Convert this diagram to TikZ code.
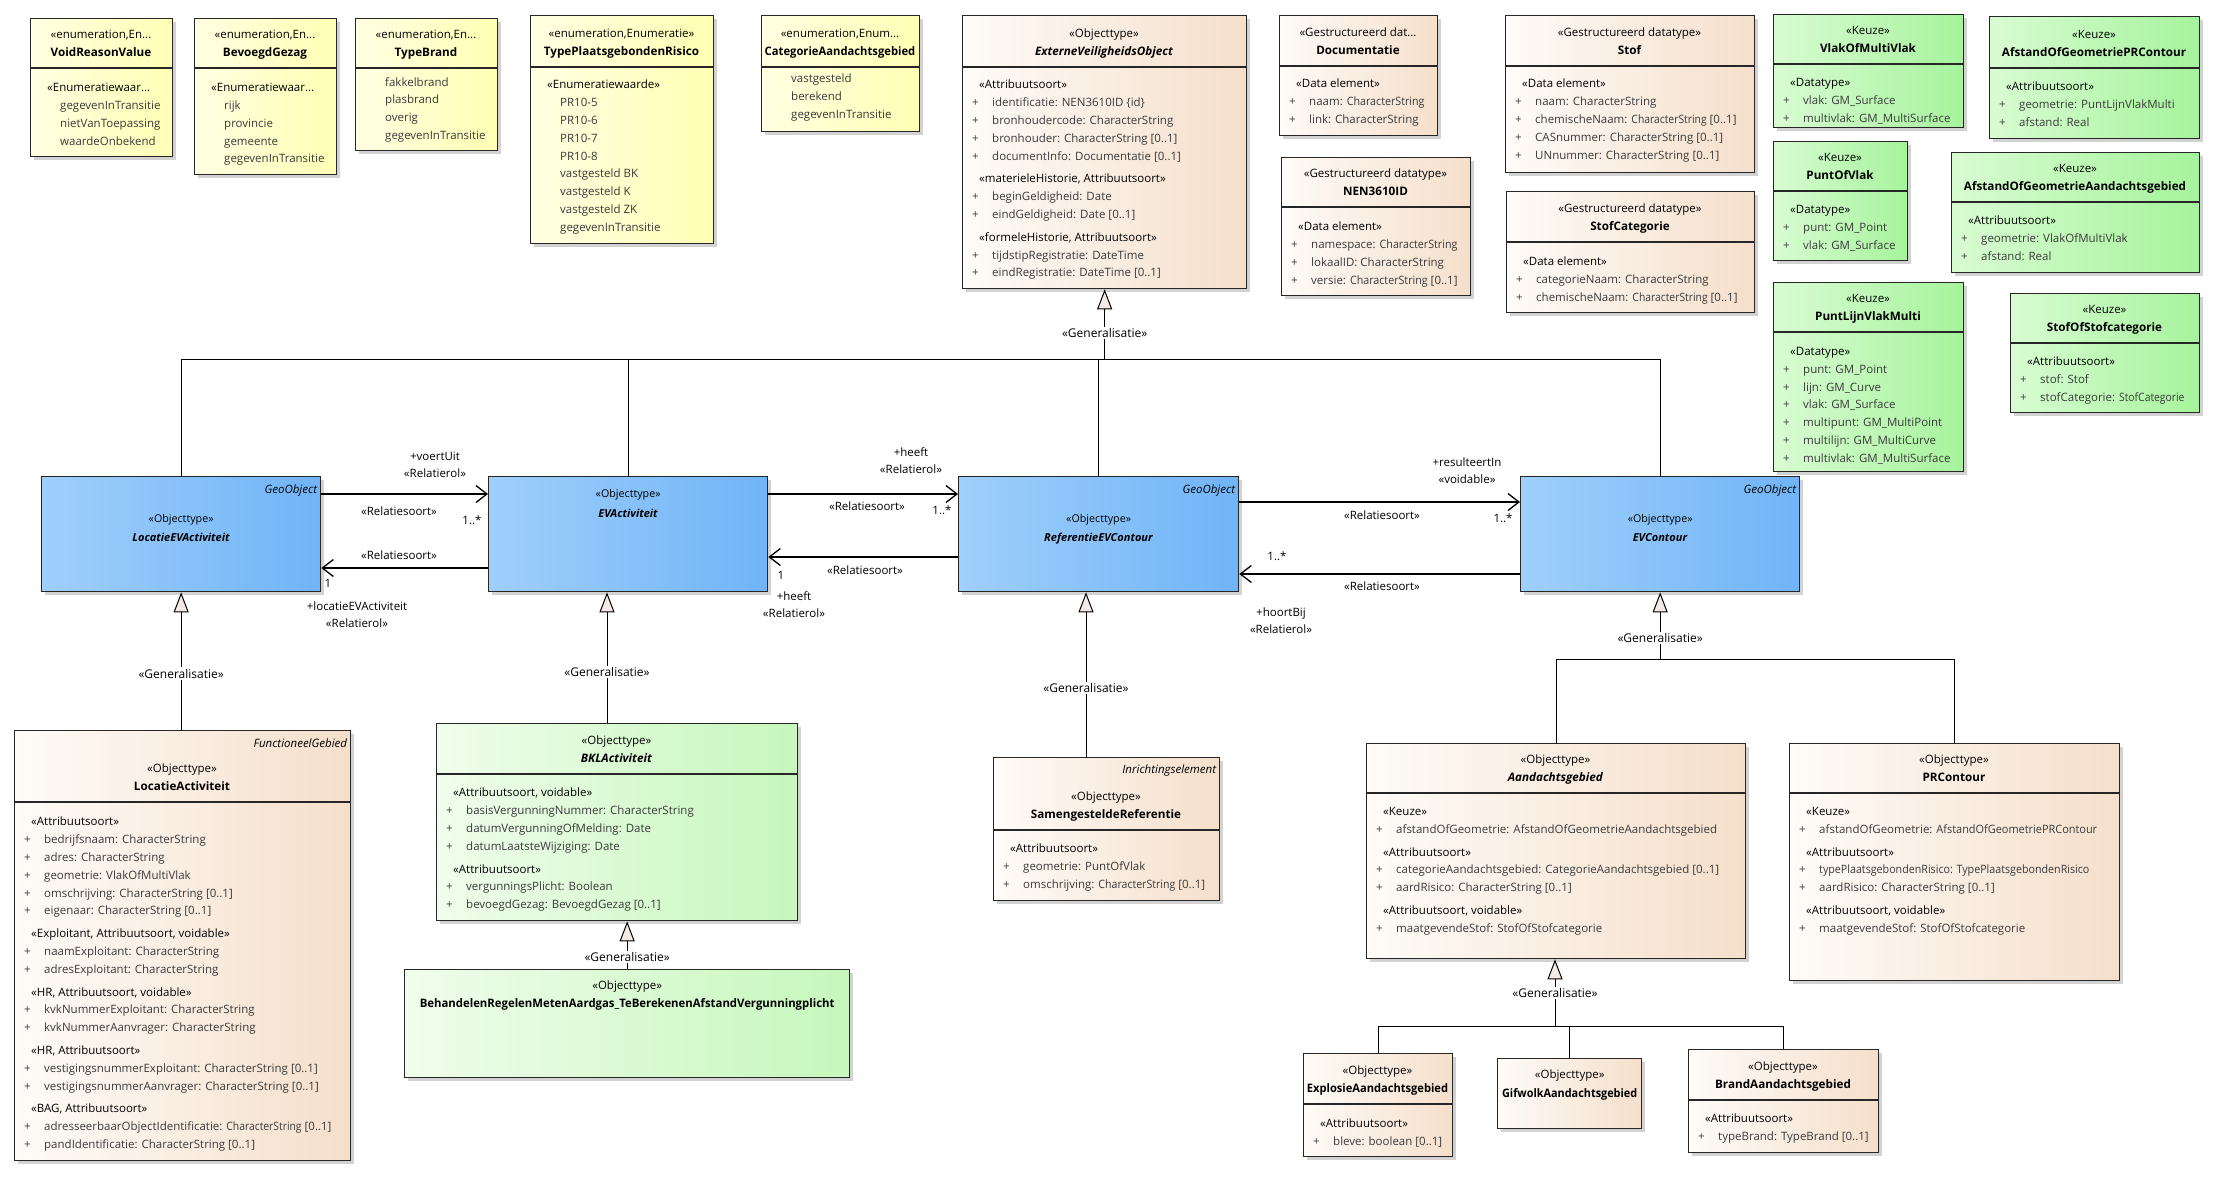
\documentclass[tikz,border=0pt]{standalone}
\usepackage{fontspec}
\setmainfont{Open Sans}
\usepackage{graphicx}
\usetikzlibrary{arrows.meta,shadows,calc}

\definecolor{enumL}{HTML}{FFFFE2}
\definecolor{enumR}{HTML}{FFFFB4}
\definecolor{objL}{HTML}{FEFBF8}
\definecolor{objR}{HTML}{F5DFCB}
\definecolor{keuzeL}{HTML}{D8FCD2}
\definecolor{keuzeR}{HTML}{A6F39C}
\definecolor{bklL}{HTML}{F0FDEC}
\definecolor{bklR}{HTML}{C6F7BC}
\definecolor{geoL}{HTML}{A0CFFB}
\definecolor{geoR}{HTML}{70B4F7}
\definecolor{triFill}{HTML}{F3E9E7}
\definecolor{attrGray}{HTML}{3A3A3A}

\tikzset{
  umlbase/.style={draw=black!85, line width=1.3pt, inner sep=0pt,
    drop shadow={shadow xshift=3.5pt, shadow yshift=-3.5pt, fill=black!35, opacity=.5}},
  enumbox/.style={umlbase, left color=enumL, right color=enumR},
  objbox/.style={umlbase, left color=objL, right color=objR},
  keuzebox/.style={umlbase, left color=keuzeL, right color=keuzeR},
  bklbox/.style={umlbase, left color=bklL, right color=bklR},
  geobox/.style={umlbase, left color=geoL, right color=geoR},
  sepline/.style={draw=black!85, line width=1.3pt},
  stereo/.style={font=\fontsize{11.5}{13}\selectfont, inner sep=0pt, anchor=base},
  clsname/.style={font=\fontsize{11.7}{13}\selectfont\bfseries, inner sep=0pt, anchor=base},
  body/.style={font=\fontsize{11.5}{17.8}\selectfont, align=left, anchor=north west,
    inner xsep=8pt, inner ysep=0pt},
  clstag/.style={font=\fontsize{11.5}{13}\selectfont\itshape, inner sep=0pt, anchor=base east},
  lbl/.style={font=\fontsize{11.5}{17}\selectfont, align=center, inner sep=0pt},
  genlbl/.style={font=\fontsize{12}{13}\selectfont, fill=white, inner sep=1.5pt},
  tree/.style={line width=1pt},
  gen/.style={line width=1pt, -{Triangle[length=20pt, width=15pt, fill=triFill, line width=1pt]}},
  assoc/.style={line width=1.3pt, -{Straight Barb[length=11pt, width=17pt, line width=1.3pt]}},
}

% box with compartment line: name, style, x1, y1, x2, y2, y of line, stereotype, class name
\newcommand{\umlclass}[9]{%
  \node[#2, minimum width=#5-#3, minimum height=#6-#4, anchor=north west] (#1) at (#3,#4) {};
  \coordinate (#1-sw) at (#3,#7);
  \coordinate (#1-se) at (#5,#7);
  \draw[sepline] (#1-sw) -- (#1-se);
  \node[stereo] (#1-st) at ($(#1-sw)!.5!(#1-se)+(0,-30)$) {#8};
  \node[clsname] (#1-nm) at ($(#1-sw)!.5!(#1-se)+(0,-12)$) {#9};
}
% box without compartments
\newcommand{\umlplain}[6]{%
  \node[#2, minimum width=#5-#3, minimum height=#6-#4, anchor=north west] (#1) at (#3,#4) {};
}
% attribute compartment
\newcommand{\umlbody}[3]{%
  \node[body] (#1-bd) at ($(#1-sw)+(0,#2)$) {#3};
}
\newcommand{\umlsect}[1]{\hspace*{9pt}#1}
\newcommand{\umlattr}[1]{{\color{attrGray}\makebox[22pt][l]{\hspace*{2pt}+}#1}}
\newcommand{\umlval}[1]{\hspace*{22pt}{\color{attrGray}#1}}
\newcommand{\umlsq}[2]{\scalebox{#1}[1]{#2}}

\begin{document}
\begin{tikzpicture}[x=1pt, y=-1pt]
\useasboundingbox (0,0) rectangle (2223,1181);

% enumerations
\umlclass{vrv}{enumbox}{30}{18}{172}{156}{68}{«enumeration,En...}{VoidReasonValue}
\umlbody{vrv}{15}{\umlsect{«Enumeratiewaar...}\\ \umlval{gegevenInTransitie}\\ \umlval{nietVanToepassing}\\ \umlval{waardeOnbekend}}
\umlclass{bg}{enumbox}{194}{18}{336}{174}{68}{«enumeration,En...}{BevoegdGezag}
\umlbody{bg}{15}{\umlsect{«Enumeratiewaar...}\\ \umlval{rijk}\\ \umlval{provincie}\\ \umlval{gemeente}\\ \umlval{gegevenInTransitie}}
\umlclass{tb}{enumbox}{355}{18}{497}{150}{68}{«enumeration,En...}{TypeBrand}
\umlbody{tb}{9}{\umlval{fakkelbrand}\\ \umlval{plasbrand}\\ \umlval{overig}\\ \umlval{gegevenInTransitie}}
\umlclass{tpr}{enumbox}{530}{15}{713}{243}{67}{«enumeration,Enumeratie»}{TypePlaatsgebondenRisico}
\umlbody{tpr}{13}{\umlsect{«Enumeratiewaarde»}\\ \umlval{PR10-5}\\ \umlval{PR10-6}\\ \umlval{PR10-7}\\ \umlval{PR10-8}\\ \umlval{vastgesteld BK}\\ \umlval{vastgesteld K}\\ \umlval{vastgesteld ZK}\\ \umlval{gegevenInTransitie}}
\umlclass{cat}{enumbox}{761}{15}{919}{131}{67}{«enumeration,Enum...}{\umlsq{.96}{CategorieAandachtsgebied}}
\umlbody{cat}{7}{\umlval{vastgesteld}\\ \umlval{berekend}\\ \umlval{gegevenInTransitie}}

% supertype
\umlclass{evo}{objbox}{962}{15}{1246}{288}{67}{«Objecttype»}{\textit{ExterneVeiligheidsObject}}
\umlbody{evo}{13}{\umlsect{«Attribuutsoort»}\\ \umlattr{identificatie: NEN3610ID \{id\}}\\ \umlattr{bronhoudercode: CharacterString}\\ \umlattr{bronhouder: CharacterString [0..1]}\\ \umlattr{documentInfo: Documentatie [0..1]}\\[5pt]
  \umlsect{«materieleHistorie, Attribuutsoort»}\\ \umlattr{beginGeldigheid: Date}\\ \umlattr{eindGeldigheid: Date [0..1]}\\[5pt]
  \umlsect{«formeleHistorie, Attribuutsoort»}\\ \umlattr{tijdstipRegistratie: DateTime}\\ \umlattr{eindRegistratie: DateTime [0..1]}}

% data types
\umlclass{doc}{objbox}{1279}{15}{1437}{135}{66}{«Gestructureerd dat...}{Documentatie}
\umlbody{doc}{13}{\umlsect{«Data element»}\\ \umlattr{naam: \umlsq{.93}{CharacterString}}\\ \umlattr{link: CharacterString}}
\umlclass{nen}{objbox}{1281}{157}{1470}{295}{207}{«Gestructureerd datatype»}{NEN3610ID}
\umlbody{nen}{15}{\umlsect{«Data element»}\\ \umlattr{namespace: \umlsq{.93}{CharacterString}}\\ \umlattr{lokaalID: CharacterString}\\ \umlattr{versie: \umlsq{.93}{CharacterString} [0..1]}}
\umlclass{stof}{objbox}{1505}{15}{1754}{172}{66}{«Gestructureerd datatype»}{Stof}
\umlbody{stof}{13}{\umlsect{«Data element»}\\ \umlattr{naam: CharacterString}\\ \umlattr{chemischeNaam: \umlsq{.9}{CharacterString} [0..1]}\\ \umlattr{CASnummer: CharacterString [0..1]}\\ \umlattr{UNnummer: CharacterString [0..1]}}
\umlclass{stofcat}{objbox}{1506}{191}{1754}{312}{242}{«Gestructureerd datatype»}{StofCategorie}
\umlbody{stofcat}{15}{\umlsect{«Data element»}\\ \umlattr{categorieNaam: CharacterString}\\ \umlattr{chemischeNaam: \umlsq{.9}{CharacterString} [0..1]}}

% keuze types
\umlclass{vomv}{keuzebox}{1773}{14}{1963}{127}{64}{«Keuze»}{VlakOfMultiVlak}
\umlbody{vomv}{14}{\umlsect{«Datatype»}\\ \umlattr{vlak: GM\_Surface}\\ \umlattr{multivlak: GM\_MultiSurface}}
\umlclass{agpr}{keuzebox}{1989}{16}{2199}{138}{68}{«Keuze»}{AfstandOfGeometriePRContour}
\umlbody{agpr}{14}{\umlsect{«Attribuutsoort»}\\ \umlattr{geometrie: PuntLijnVlakMulti}\\ \umlattr{afstand: Real}}
\umlclass{pov}{keuzebox}{1773}{141}{1907}{260}{191}{«Keuze»}{PuntOfVlak}
\umlbody{pov}{14}{\umlsect{«Datatype»}\\ \umlattr{punt: GM\_Point}\\ \umlattr{vlak: GM\_Surface}}
\umlclass{agag}{keuzebox}{1951}{152}{2199}{272}{202}{«Keuze»}{AfstandOfGeometrieAandachtsgebied}
\umlbody{agag}{14}{\umlsect{«Attribuutsoort»}\\ \umlattr{geometrie: VlakOfMultiVlak}\\ \umlattr{afstand: Real}}
\umlclass{plvm}{keuzebox}{1773}{282}{1963}{471}{332}{«Keuze»}{PuntLijnVlakMulti}
\umlbody{plvm}{15}{\umlsect{«Datatype»}\\ \umlattr{punt: GM\_Point}\\ \umlattr{lijn: GM\_Curve}\\ \umlattr{vlak: GM\_Surface}\\ \umlattr{multipunt: GM\_MultiPoint}\\ \umlattr{multilijn: GM\_MultiCurve}\\ \umlattr{multivlak: GM\_MultiSurface}}
\umlclass{sos}{keuzebox}{2010}{293}{2199}{412}{343}{«Keuze»}{StofOfStofcategorie}
\umlbody{sos}{14}{\umlsect{«Attribuutsoort»}\\ \umlattr{stof: Stof}\\ \umlattr{stofCategorie: \umlsq{.9}{StofCategorie}}}

% middle row
\umlplain{locev}{geobox}{41}{476}{320}{591}
\node[clstag] (locev-tg) at ($(locev.north east)+(-4,17)$) {GeoObject};
\node[stereo, font=\fontsize{10.7}{12}\selectfont] (locev-st) at ($(locev.north)+(0,46)$) {«Objecttype»};
\node[clsname, font=\fontsize{11}{12}\selectfont\bfseries] (locev-nm) at ($(locev.north)+(0,65)$) {\textit{LocatieEVActiviteit}};
\umlplain{evact}{geobox}{488}{476}{767}{591}
\node[stereo, font=\fontsize{10.7}{12}\selectfont] (evact-st) at ($(evact.north)+(0,21)$) {«Objecttype»};
\node[clsname, font=\fontsize{11}{12}\selectfont\bfseries] (evact-nm) at ($(evact.north)+(0,41)$) {\textit{EVActiviteit}};
\umlplain{refev}{geobox}{958}{476}{1238}{591}
\node[clstag] (refev-tg) at ($(refev.north east)+(-4,17)$) {GeoObject};
\node[stereo, font=\fontsize{10.7}{12}\selectfont] (refev-st) at ($(refev.north)+(0,46)$) {«Objecttype»};
\node[clsname, font=\fontsize{11}{12}\selectfont\bfseries] (refev-nm) at ($(refev.north)+(0,65)$) {\textit{ReferentieEVContour}};
\umlplain{evcont}{geobox}{1520}{476}{1799}{591}
\node[clstag] (evcont-tg) at ($(evcont.north east)+(-4,17)$) {GeoObject};
\node[stereo, font=\fontsize{10.7}{12}\selectfont] (evcont-st) at ($(evcont.north)+(0,46)$) {«Objecttype»};
\node[clsname, font=\fontsize{11}{12}\selectfont\bfseries] (evcont-nm) at ($(evcont.north)+(0,65)$) {\textit{EVContour}};

% lower row
\umlclass{locact}{objbox}{14}{730}{350}{1160}{802}{«Objecttype»}{LocatieActiviteit}
\node[clstag] (locact-tg) at ($(locact.north east)+(-4,17)$) {FunctioneelGebied};
\umlbody{locact}{15}{\umlsect{«Attribuutsoort»}\\ \umlattr{bedrijfsnaam: CharacterString}\\ \umlattr{adres: CharacterString}\\ \umlattr{geometrie: VlakOfMultiVlak}\\ \umlattr{omschrijving: CharacterString [0..1]}\\ \umlattr{eigenaar: CharacterString [0..1]}\\[5pt]
  \umlsect{«Exploitant, Attribuutsoort, voidable»}\\ \umlattr{naamExploitant: CharacterString}\\ \umlattr{adresExploitant: CharacterString}\\[5pt]
  \umlsect{«HR, Attribuutsoort, voidable»}\\ \umlattr{kvkNummerExploitant: CharacterString}\\ \umlattr{kvkNummerAanvrager: CharacterString}\\[5pt]
  \umlsect{«HR, Attribuutsoort»}\\ \umlattr{vestigingsnummerExploitant: CharacterString [0..1]}\\ \umlattr{vestigingsnummerAanvrager: CharacterString [0..1]}\\[5pt]
  \umlsect{«BAG, Attribuutsoort»}\\ \umlattr{adresseerbaarObjectIdentificatie: \umlsq{.9}{CharacterString} [0..1]}\\ \umlattr{pandIdentificatie: CharacterString [0..1]}}
\umlclass{bkl}{bklbox}{436}{723}{797}{920}{774}{«Objecttype»}{\textit{BKLActiviteit}}
\umlbody{bkl}{14}{\umlsect{«Attribuutsoort, voidable»}\\ \umlattr{basisVergunningNummer: CharacterString}\\ \umlattr{datumVergunningOfMelding: Date}\\ \umlattr{datumLaatsteWijziging: Date}\\[5pt]
  \umlsect{«Attribuutsoort»}\\ \umlattr{vergunningsPlicht: Boolean}\\ \umlattr{bevoegdGezag: BevoegdGezag [0..1]}}
\umlplain{brm}{bklbox}{404}{969}{849}{1077}
\node[stereo] (brm-st) at ($(brm.north)+(0,20)$) {«Objecttype»};
\node[clsname] (brm-nm) at ($(brm.north)+(0,38)$) {\umlsq{.97}{BehandelenRegelenMetenAardgas\_TeBerekenenAfstandVergunningplicht}};
\umlclass{samref}{objbox}{993}{757}{1219}{900}{830}{«Objecttype»}{SamengesteldeReferentie}
\node[clstag] (samref-tg) at ($(samref.north east)+(-4,16)$) {Inrichtingselement};
\umlbody{samref}{14}{\umlsect{«Attribuutsoort»}\\ \umlattr{geometrie: PuntOfVlak}\\ \umlattr{omschrijving: \umlsq{.92}{CharacterString} [0..1]}}
\umlclass{aand}{objbox}{1366}{743}{1745}{958}{793}{«Objecttype»}{\textit{Aandachtsgebied}}
\umlbody{aand}{14}{\umlsect{«Keuze»}\\ \umlattr{afstandOfGeometrie: AfstandOfGeometrieAandachtsgebied}\\[5pt]
  \umlsect{«Attribuutsoort»}\\ \umlattr{categorieAandachtsgebied: CategorieAandachtsgebied [0..1]}\\ \umlattr{aardRisico: CharacterString [0..1]}\\[5pt]
  \umlsect{«Attribuutsoort, voidable»}\\ \umlattr{maatgevendeStof: StofOfStofcategorie}}
\umlclass{prc}{objbox}{1789}{743}{2119}{980}{793}{«Objecttype»}{PRContour}
\umlbody{prc}{14}{\umlsect{«Keuze»}\\ \umlattr{afstandOfGeometrie: \umlsq{.95}{AfstandOfGeometriePRContour}}\\[5pt]
  \umlsect{«Attribuutsoort»}\\ \umlattr{\umlsq{.93}{typePlaatsgebondenRisico: TypePlaatsgebondenRisico}}\\ \umlattr{aardRisico: CharacterString [0..1]}\\[5pt]
  \umlsect{«Attribuutsoort, voidable»}\\ \umlattr{maatgevendeStof: StofOfStofcategorie}}
\umlclass{expl}{objbox}{1303}{1053}{1452}{1156}{1104}{«Objecttype»}{\umlsq{.95}{ExplosieAandachtsgebied}}
\umlbody{expl}{15}{\umlsect{«Attribuutsoort»}\\ \umlattr{bleve: boolean [0..1]}}
\umlplain{gif}{objbox}{1497}{1058}{1641}{1128}
\node[stereo] (gif-st) at ($(gif.north)+(0,20)$) {«Objecttype»};
\node[clsname] (gif-nm) at ($(gif.north)+(0,39)$) {\umlsq{.93}{GifwolkAandachtsgebied}};
\umlclass{brand}{objbox}{1688}{1049}{1878}{1152}{1100}{«Objecttype»}{BrandAandachtsgebied}
\umlbody{brand}{14}{\umlsect{«Attribuutsoort»}\\ \umlattr{typeBrand: TypeBrand [0..1]}}

% generalisation tree to ExterneVeiligheidsObject
\coordinate (gtop) at (1103,359);
\draw[tree] (locev.north) |- (evcont.north |- gtop) -- (evcont.north);
\draw[tree] (evact.north) -- (evact.north |- gtop);
\draw[tree] (refev.north) -- (refev.north |- gtop);
\draw[gen] (evo.south |- gtop) -- (evo.south) node[genlbl, pos=.37] (g1-lb) {«Generalisatie»};

% generalisations from the lower row
\coordinate (g2) at (607,0);
\coordinate (g3) at (1086,0);
\draw[gen] (locact.north -| locev.south) -- (locev.south) node[genlbl, pos=.41] (g0-lb) {«Generalisatie»};
\draw[gen] (bkl.north -| g2) -- (evact.south -| g2) node[genlbl, pos=.39] (g2-lb) {«Generalisatie»};
\draw[gen] (samref.north -| g3) -- (refev.south -| g3) node[genlbl, pos=.42] (g3-lb) {«Generalisatie»};
\draw[gen] (brm.north) -- (bkl.south -| brm.north) node[genlbl, pos=.25] (g6-lb) {«Generalisatie»};

\coordinate (g4) at (1659,659);
\draw[tree] (aand.north) |- (prc.north |- g4) -- (prc.north);
\draw[gen] (evcont.south |- g4) -- (evcont.south) node[genlbl, pos=.31] (g4-lb) {«Generalisatie»};

\coordinate (g5) at (1555,1026);
\draw[tree] (expl.north) |- (brand.north |- g5) -- (brand.north);
\draw[tree] (gif.north) -- (gif.north |- g5);
\draw[gen] (g5) -- (aand.south -| g5) node[genlbl, pos=.5] (g5-lb) {«Generalisatie»};

% associations
\coordinate (r1) at (0,494);
\coordinate (r2) at (0,568);
\coordinate (r3) at (0,557);
\coordinate (r4) at (0,502);
\coordinate (r5) at (0,574);
\draw[assoc] (locev.east |- r1) -- (evact.west |- r1);
\draw[assoc] (evact.west |- r2) -- (locev.east |- r2);
\draw[assoc] (evact.east |- r1) -- (refev.west |- r1);
\draw[assoc] (refev.west |- r3) -- (evact.east |- r3);
\draw[assoc] (refev.east |- r4) -- (evcont.west |- r4);
\draw[assoc] (evcont.west |- r5) -- (refev.east |- r5);

% association labels
\node[lbl] (a1-rol) at (435,465) {+voertUit\\«Relatierol»};
\node[lbl] (a1-rs) at (399,511) {«Relatiesoort»};
\node[lbl] (a1-m) at (472,520) {1..*};
\node[lbl] (a2-rs) at (399,555) {«Relatiesoort»};
\node[lbl] (a2-m) at (328,583) {1};
\node[lbl] (a2-rol) at (357,615) {+locatieEVActiviteit\\«Relatierol»};
\node[lbl] (a3-rol) at (911,461) {+heeft\\«Relatierol»};
\node[lbl] (a3-rs) at (867,506) {«Relatiesoort»};
\node[lbl] (a3-m) at (942,510) {1..*};
\node[lbl] (a4-m) at (781,575) {1};
\node[lbl] (a4-rs) at (865,570) {«Relatiesoort»};
\node[lbl] (a4-rol) at (794,605) {+heeft\\«Relatierol»};
\node[lbl] (a5-rol) at (1467,471) {+resulteertIn\\«voidable»};
\node[lbl] (a5-rs) at (1382,515) {«Relatiesoort»};
\node[lbl] (a5-m) at (1503,518) {1..*};
\node[lbl] (a6-m) at (1277,556) {1..*};
\node[lbl] (a6-rs) at (1382,586) {«Relatiesoort»};
\node[lbl] (a6-rol) at (1281,621) {+hoortBij\\«Relatierol»};
\end{tikzpicture}
\end{document}
